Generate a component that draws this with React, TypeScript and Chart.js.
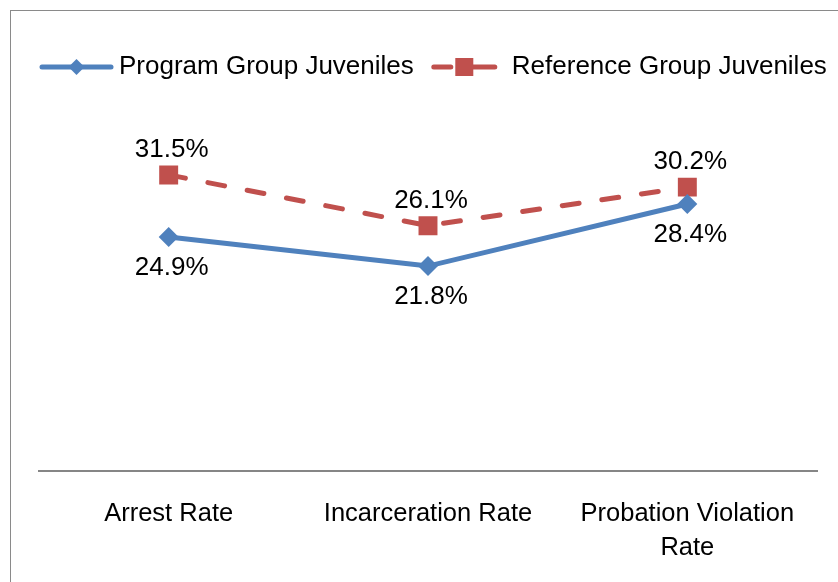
import React, { useEffect, useRef } from "react";
import { Chart, registerables } from "chart.js";

Chart.register(...registerables);

const categories: (string | string[])[] = ["Arrest Rate", "Incarceration Rate", ["Probation Violation", "Rate"]];
const seriesNames = ["Program Group Juveniles", "Reference Group Juveniles"];
const programValues = [24.9, 21.8, 28.4];
const referenceValues = [31.5, 26.1, 30.2];

const BLUE = "#4F81BD";
const RED = "#C0504D";
const FONT = "'Liberation Sans', Arial, sans-serif";

const borderPlugin = {
  id: "outerBorder",
  beforeDraw(chart: any) {
    const ctx = chart.ctx;
    ctx.save();
    ctx.fillStyle = "#ffffff";
    ctx.fillRect(0, 0, chart.width, chart.height);
    ctx.strokeStyle = "#8a8a8a";
    ctx.lineWidth = 1;
    ctx.strokeRect(10.5, 10.5, chart.width + 20, chart.height + 20);
    ctx.restore();
  },
};

const dataLabelPlugin = {
  id: "dataLabels",
  afterDatasetsDraw(chart: any) {
    const ctx = chart.ctx;
    ctx.save();
    ctx.font = `26px ${FONT}`;
    ctx.fillStyle = "#000000";
    ctx.textAlign = "center";
    ctx.textBaseline = "middle";
    chart.data.datasets.forEach((ds: any, di: number) => {
      const meta = chart.getDatasetMeta(di);
      meta.data.forEach((pt: any, i: number) => {
        const v = ds.data[i];
        const dy = di === 0 ? 31 : -25;
        ctx.fillText(`${v}%`, pt.x + 3, pt.y + dy);
      });
    });
    ctx.restore();
  },
};

function drawDiamond(ctx: CanvasRenderingContext2D, x: number, y: number, r: number) {
  ctx.beginPath();
  ctx.moveTo(x, y - r);
  ctx.lineTo(x + r, y);
  ctx.lineTo(x, y + r);
  ctx.lineTo(x - r, y);
  ctx.closePath();
  ctx.fill();
}

const legendPlugin = {
  id: "customLegend",
  afterDraw(chart: any) {
    const ctx = chart.ctx;
    const y = 67;
    const sampleW = 73;
    ctx.save();
    ctx.font = `26px ${FONT}`;
    ctx.textBaseline = "middle";
    ctx.textAlign = "left";
    let x = 40;
    // item 1
    ctx.strokeStyle = BLUE;
    ctx.fillStyle = BLUE;
    ctx.lineWidth = 5;
    ctx.lineCap = "round";
    ctx.beginPath();
    ctx.moveTo(x + 2, y);
    ctx.lineTo(x + sampleW - 2, y);
    ctx.stroke();
    drawDiamond(ctx, x + sampleW / 2, y, 8);
    ctx.fillStyle = "#000";
    const t1x = x + sampleW + 6;
    ctx.fillText(seriesNames[0], t1x, y);
    x = t1x + ctx.measureText(seriesNames[0]).width + 18;
    // item 2
    const w2 = 65;
    ctx.strokeStyle = RED;
    ctx.fillStyle = RED;
    ctx.lineWidth = 5;
    ctx.lineCap = "round";
    ctx.beginPath();
    ctx.moveTo(x + 2, y);
    ctx.lineTo(x + 19, y);
    ctx.moveTo(x + 40, y);
    ctx.lineTo(x + w2 - 2, y);
    ctx.stroke();
    ctx.fillRect(x + w2 / 2 - 9, y - 9, 18, 18);
    ctx.fillStyle = "#000";
    ctx.fillText(seriesNames[1], x + w2 + 15, y);
    ctx.restore();
  },
};

export default function App() {
  const ref = useRef<HTMLCanvasElement | null>(null);
  useEffect(() => {
    if (!ref.current) return;
    const chart = new Chart(ref.current, {
      type: "line",
      data: {
        labels: categories as any,
        datasets: [
          {
            label: seriesNames[0],
            data: programValues,
            borderColor: BLUE,
            backgroundColor: BLUE,
            borderWidth: 5,
            pointStyle: "rectRot",
            pointRadius: 10,
            pointBorderWidth: 0,
            pointBackgroundColor: BLUE,
            tension: 0,
          },
          {
            label: seriesNames[1],
            data: referenceValues,
            borderColor: RED,
            backgroundColor: RED,
            borderWidth: 5,
            borderDash: [17, 23],
            borderCapStyle: "round",
            pointStyle: "rect",
            pointRadius: 13.4,
            pointBorderWidth: 0,
            pointBackgroundColor: RED,
            tension: 0,
          },
        ],
      },
      options: {
        responsive: false,
        animation: false,
        layout: { padding: { left: 39, right: 21, top: 142, bottom: 0 } },
        plugins: {
          legend: { display: false },
          tooltip: { enabled: false },
          title: { display: false },
        },
        scales: {
          x: {
            type: "category",
            offset: true,
            grid: { display: false, drawTicks: false },
            border: { display: true, color: "#868686", width: 2 },
            ticks: {
              color: "#000000",
              font: { family: FONT, size: 25.5, lineHeight: 1.333 },
              padding: 26,
              maxRotation: 0,
              minRotation: 0,
              autoSkip: false,
            },
            afterFit: (s: any) => {
              s.height = 111;
            },
          },
          y: {
            display: false,
            min: 0,
            max: 35,
          },
        },
      },
      plugins: [borderPlugin, dataLabelPlugin, legendPlugin],
    });
    return () => chart.destroy();
  }, []);
  return (
    <div style={{ position: "absolute", left: 0, top: 0, width: 838, height: 582 }}>
      <canvas ref={ref} width={838} height={582} style={{ display: "block" }} />
    </div>
  );
}
